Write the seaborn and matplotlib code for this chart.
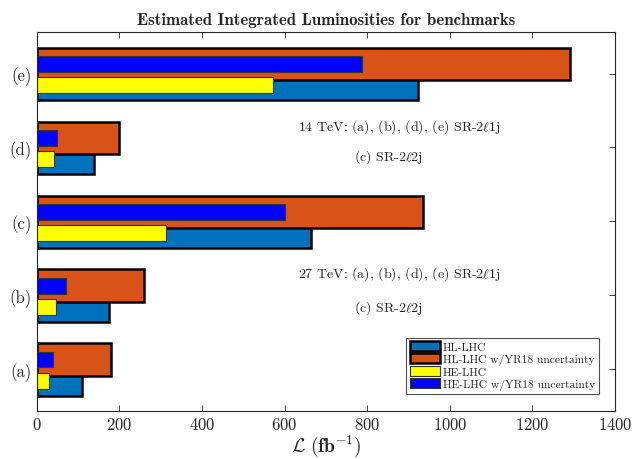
import numpy as np
import pandas as pd
import matplotlib.pyplot as plt
from matplotlib.patches import Patch
import seaborn as sns

benchmarks = ["(a)", "(b)", "(c)", "(d)", "(e)"]
hl_lhc = [110, 176, 664, 139, 922]
hl_lhc_yr18 = [181, 260, 936, 199, 1290]
he_lhc = [31, 47, 314, 42, 572]
he_lhc_yr18 = [40, 71, 601, 50, 787]

series_names = ["HL-LHC", "HL-LHC w/YR18 uncertainty", "HE-LHC", "HE-LHC w/YR18 uncertainty"]
series_colors = ["#0072BD", "#D95319", "#FFFF00", "#0000FF"]

sns.set_style("ticks")
plt.rcParams['font.family'] = 'serif'
plt.rcParams['font.serif'] = ['cmr10']
plt.rcParams['mathtext.fontset'] = 'cm'
plt.rcParams['axes.formatter.use_mathtext'] = True
plt.rcParams['axes.unicode_minus'] = False

pos = np.arange(1, len(benchmarks) + 1)

fig = plt.figure(figsize=(6.37, 4.60), dpi=100)
ax = fig.add_axes([0.0576, 0.105, 0.908, 0.823])

# (values, offset, width, edge colour, edge width)
layers = [
    (hl_lhc, -0.13, 0.46, "black", 1.8),
    (hl_lhc_yr18, 0.13, 0.44, "black", 1.8),
    (he_lhc, -0.155, 0.21, "#333333", 0.8),
    (he_lhc_yr18, 0.13, 0.21, "#333333", 0.8),
]

for (vals, off, w, ec, lw), col in zip(layers, series_colors):
    d = pd.DataFrame({"y": pos + off, "x": vals})
    sns.barplot(data=d, x="x", y="y", orient="h", native_scale=True,
                width=w, color=col, saturation=1, edgecolor=ec,
                linewidth=lw, errorbar=None, ax=ax)

ax.set_xlim(0, 1400)
ax.set_ylim(0.44, 5.56)
ax.set_yticks(pos)
ax.set_yticklabels(benchmarks, fontsize=12)
ax.set_xticks(np.arange(0, 1401, 200))
ax.tick_params(axis='x', labelsize=12)
ax.tick_params(direction='in', top=True, right=True, length=4, width=0.6)
for s in ax.spines.values():
    s.set_visible(True)
    s.set_linewidth(0.8)
    s.set_color("#262626")

ax.set_xlabel(r"$\mathcal{L}\ (\mathbf{fb}^{-1})$", fontsize=14, labelpad=1)
ax.set_ylabel("")
ax.set_title("Estimated Integrated Luminosities for benchmarks",
             fontfamily="cmb10", fontsize=12.2, pad=6)

ax.text(878, 4.29, r"14 TeV: (a), (b), (d), (e) SR-2$\ell$1j", ha="center", va="center", fontsize=10)
ax.text(851, 3.88, r"(c) SR-2$\ell$2j", ha="center", va="center", fontsize=10)
ax.text(878, 2.30, r"27 TeV: (a), (b), (d), (e) SR-2$\ell$1j", ha="center", va="center", fontsize=10)
ax.text(851, 1.84, r"(c) SR-2$\ell$2j", ha="center", va="center", fontsize=10)

handles = [
    Patch(facecolor=series_colors[0], edgecolor="black", linewidth=1.8),
    Patch(facecolor=series_colors[1], edgecolor="black", linewidth=1.8),
    Patch(facecolor=series_colors[2], edgecolor="#333333", linewidth=0.8),
    Patch(facecolor=series_colors[3], edgecolor="#333333", linewidth=0.8),
]
leg = ax.legend(handles, series_names, loc="lower right", bbox_to_anchor=(0.972, 0.045),
                fontsize=8.3, frameon=True, fancybox=False, borderpad=0.3,
                handlelength=2.6, handleheight=0.9, handletextpad=0.3, labelspacing=0.12,
                borderaxespad=0)
leg.get_frame().set_edgecolor("#262626")
leg.get_frame().set_linewidth(0.8)

plt.savefig("out.png", dpi=100)
